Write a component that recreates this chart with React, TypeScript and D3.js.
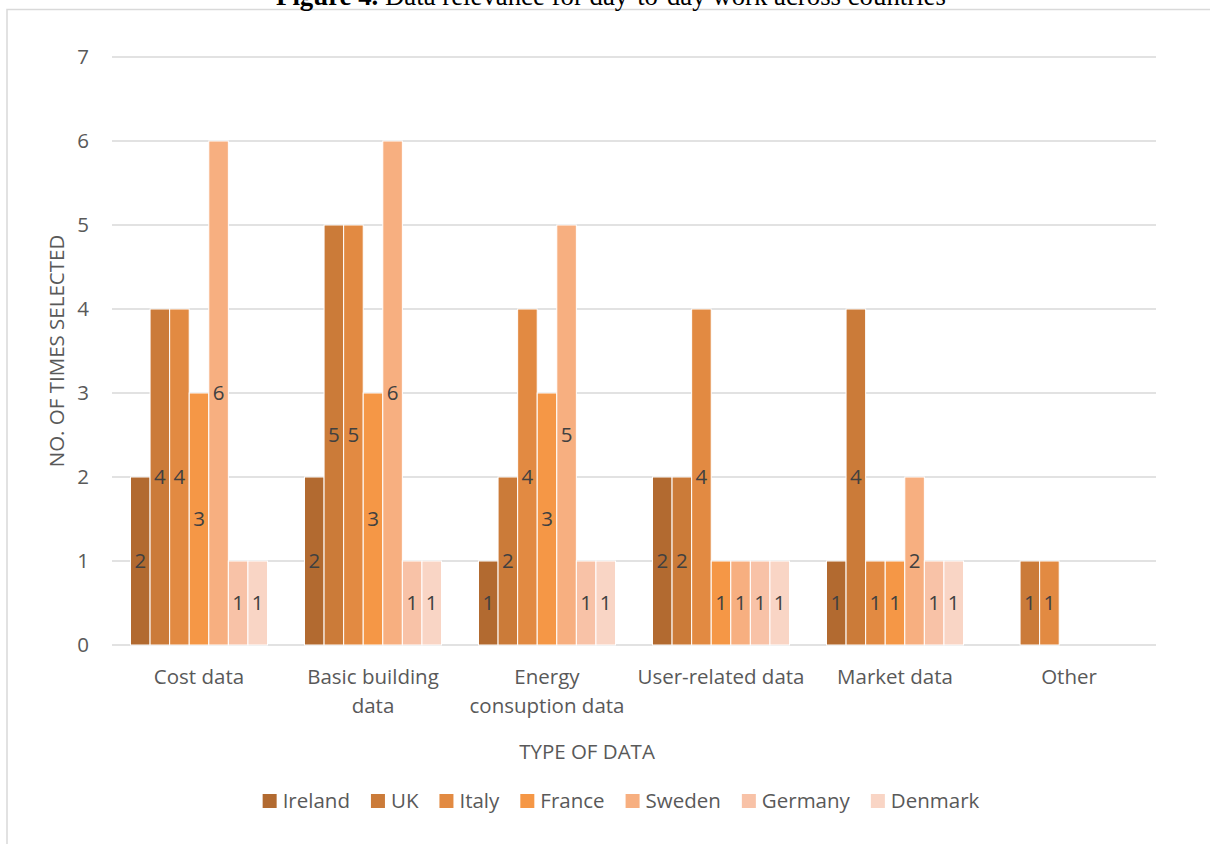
import React, { useEffect, useRef } from "react";
import * as d3 from "d3";

const categories: string[][] = [
  ["Cost data"],
  ["Basic building", "data"],
  ["Energy", "consuption data"],
  ["User-related data"],
  ["Market data"],
  ["Other"],
];
const series = ["Ireland", "UK", "Italy", "France", "Sweden", "Germany", "Denmark"];
const colors = ["#B26A30", "#CB7B39", "#E28A42", "#F59746", "#F7AF80", "#F8C2A7", "#F9D5C5"];
// values[seriesIndex][categoryIndex]
const ireland = [2, 2, 1, 2, 1, 0];
const uk = [4, 5, 2, 2, 4, 1];
const italy = [4, 5, 4, 4, 1, 1];
const france = [3, 3, 3, 1, 1, 0];
const sweden = [6, 6, 5, 1, 2, 0];
const germany = [1, 1, 1, 1, 1, 0];
const denmark = [1, 1, 1, 1, 1, 0];
const values = [ireland, uk, italy, france, sweden, germany, denmark];
const yTicks = [0, 1, 2, 3, 4, 5, 6, 7];

const FONT = "'Open Sans', Lato, sans-serif";
const FS = 20.5;
const TEXT = "#595959";
const GRID = "#D9D9D9";

export default function App() {
  const ref = useRef<SVGSVGElement>(null);
  useEffect(() => {
    const svg = d3.select(ref.current);
    svg.selectAll("*").remove();
    const left = 112, right = 1156, top = 57, bottom = 645;

    // border
    svg.append("rect").attr("x", 7).attr("y", 9.5).attr("width", 1220).attr("height", 900)
      .attr("fill", "white").attr("stroke", GRID).attr("stroke-width", 1.5);

    // title (clipped at the top edge, as in the reference)
    const title = svg.append("text").attr("x", 611).attr("y", 5).attr("text-anchor", "middle")
      .attr("font-family", "'Liberation Serif', 'Times New Roman', serif").attr("font-size", 26.8).attr("fill", "#000");
    title.append("tspan").attr("font-weight", "bold").text("Figure 4.");
    title.append("tspan").text(" Data relevance for day-to-day work across countries");

    const y = d3.scaleLinear().domain([0, 7]).range([bottom, top]);
    const x0 = d3.scaleBand<number>().domain(categories.map((_, i) => i)).range([left, right]).padding(0);
    const x1 = d3.scaleBand<number>().domain(series.map((_, i) => i)).range([0, x0.bandwidth()])
      .paddingInner(0).paddingOuter(0.945);

    // gridlines
    svg.append("g").selectAll("line").data(yTicks).join("line")
      .attr("x1", left).attr("x2", right).attr("y1", d => y(d)).attr("y2", d => y(d))
      .attr("stroke", GRID).attr("stroke-width", 1.5);

    // y tick labels
    svg.append("g").selectAll("text").data(yTicks).join("text")
      .attr("x", 89).attr("y", d => y(d)).attr("dy", "0.35em").attr("text-anchor", "end")
      .attr("font-family", FONT).attr("font-size", FS).attr("fill", TEXT).text(d => String(d));

    // bars
    const groups = svg.append("g").selectAll("g").data(categories.map((_, i) => i)).join("g")
      .attr("transform", c => `translate(${x0(c)},0)`);
    series.forEach((s, si) => {
      groups.filter(c => values[si][c] > 0).append("rect")
        .attr("x", x1(si)!).attr("width", x1.bandwidth())
        .attr("y", c => y(values[si][c])).attr("height", c => y(0) - y(values[si][c]))
        .attr("fill", colors[si]).attr("stroke", "white").attr("stroke-width", 1);
      groups.filter(c => values[si][c] > 0).append("text")
        .attr("x", x1(si)! + x1.bandwidth() / 2)
        .attr("y", c => (y(values[si][c]) + y(0)) / 2).attr("dy", "0.35em")
        .attr("text-anchor", "middle").attr("font-family", FONT).attr("font-size", FS)
        .attr("fill", "#404040").text(c => String(values[si][c]));
    });

    // x tick labels
    const xl = svg.append("g").selectAll("text").data(categories.map((c, i) => ({ c, i }))).join("text")
      .attr("x", d => x0(d.i)! + x0.bandwidth() / 2).attr("y", 684).attr("text-anchor", "middle")
      .attr("font-family", FONT).attr("font-size", FS).attr("fill", TEXT);
    xl.each(function (d) {
      d.c.forEach((line, li) => {
        d3.select(this).append("tspan").attr("x", x0(d.i)! + x0.bandwidth() / 2)
          .attr("y", 684 + li * 29).text(line);
      });
    });

    // axis titles
    svg.append("text").attr("x", 587).attr("y", 752).attr("dy", "0.35em").attr("text-anchor", "middle")
      .attr("font-family", FONT).attr("font-size", FS).attr("fill", TEXT).text("TYPE OF DATA");
    svg.append("text").attr("transform", "translate(57,351) rotate(-90)").attr("dy", "0.35em")
      .attr("text-anchor", "middle").attr("font-family", FONT).attr("font-size", FS).attr("fill", TEXT)
      .text("NO. OF TIMES SELECTED");

    // legend
    const lg = svg.append("g");
    const sq = 14, gapT = 6, gapI = 21;
    let cx = 0;
    series.forEach((s, si) => {
      const g = lg.append("g").attr("transform", `translate(${cx},0)`);
      g.append("rect").attr("x", 0).attr("y", -sq / 2).attr("width", sq).attr("height", sq).attr("fill", colors[si]);
      const t = g.append("text").attr("x", sq + gapT).attr("y", 0).attr("dy", "0.35em")
        .attr("font-family", FONT).attr("font-size", FS).attr("fill", TEXT).text(s);
      const w = (t.node() as SVGTextElement).getComputedTextLength();
      cx += sq + gapT + w + gapI;
    });
    const total = cx - gapI;
    lg.attr("transform", `translate(${621 - total / 2},801)`);
  }, []);
  return (
    <svg ref={ref} width={1210} height={844}
      style={{ position: "absolute", left: 0, top: 0, background: "white" }} />
  );
}
